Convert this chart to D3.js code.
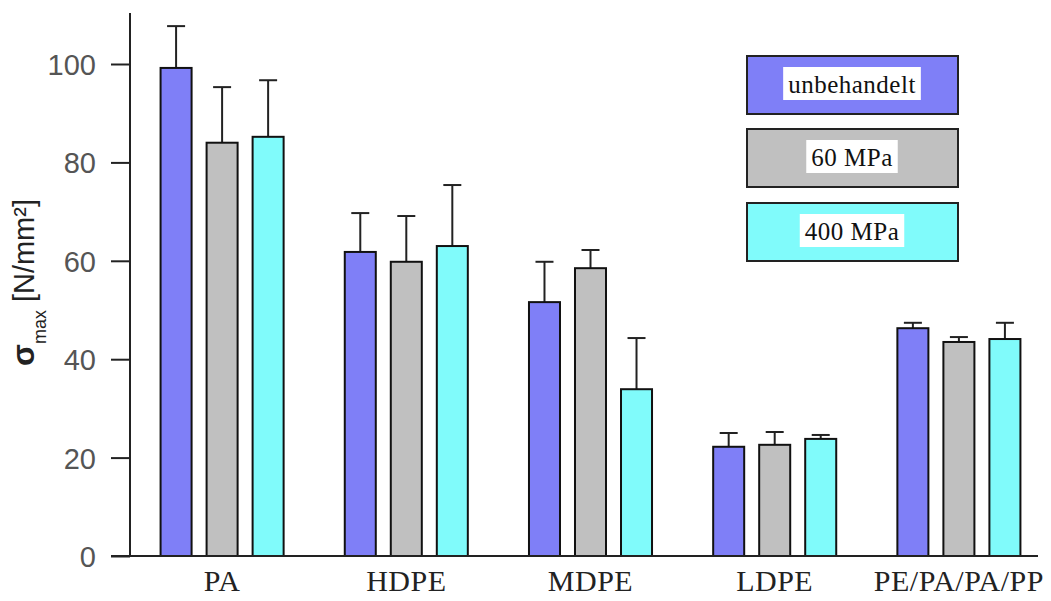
<!DOCTYPE html>
<html>
<head>
  <meta charset="utf-8">
  <script src="https://d3js.org/d3.v7.min.js"></script>
  <style>
    body { margin: 0; background: #fff; }
    .tickLabel { font-family: "Liberation Sans", Arial, sans-serif; font-size: 29px; fill: #555; }
    .catLabel { font-family: "Liberation Serif", "Times New Roman", serif; font-size: 30px; fill: #222; letter-spacing: 0.5px; }
    .legendLabel { font-family: "Liberation Serif", "Times New Roman", serif; font-size: 25px; fill: #111; letter-spacing: 0.5px; }
    .yTitle { font-family: "Liberation Sans", Arial, sans-serif; font-size: 29px; fill: #222; }
  </style>
</head>
<body>
  <script>
    // chart data
    var categories = ["PA", "HDPE", "MDPE", "LDPE", "PE/PA/PA/PP"];
    var seriesNames = ["unbehandelt", "60 MPa", "400 MPa"];
    var unbehandelt = [99.2, 61.8, 51.6, 22.2, 46.3];
    var mpa60 = [84.0, 59.8, 58.5, 22.6, 43.5];
    var mpa400 = [85.2, 63.0, 33.9, 23.8, 44.1];
    // top of each error bar
    var errUnbehandelt = [107.7, 69.7, 59.8, 25.0, 47.4];
    var errMpa60 = [95.3, 69.1, 62.2, 25.2, 44.5];
    var errMpa400 = [96.7, 75.4, 44.3, 24.6, 47.4];
    var yTicks = [0, 20, 40, 60, 80, 100];

    var seriesValues = [unbehandelt, mpa60, mpa400];
    var seriesErrors = [errUnbehandelt, errMpa60, errMpa400];
    var colors = ["#7f7ff7", "#c0c0c0", "#80fbfb"];

    var outerWidth = 1051,
      outerHeight = 601;

    var svg = d3.select("body")
      .append("svg")
      .attr("width", outerWidth)
      .attr("height", outerHeight);

    // scales
    var x0 = d3.scaleBand()
      .domain(categories)
      .range([130, 1051])
      .paddingInner(0.332)
      .paddingOuter(0.166);

    var x1 = d3.scaleBand()
      .domain(seriesNames)
      .range([0, x0.bandwidth()])
      .paddingInner(0.326);

    var yScale = d3.scaleLinear()
      .domain([0, 100])
      .range([556, 64]);

    var colorScale = d3.scaleOrdinal()
      .domain(seriesNames)
      .range(colors);

    // flatten to one row per bar
    var rows = [];
    categories.forEach(function(cat, i) {
      seriesNames.forEach(function(s, j) {
        rows.push({ cat: cat, series: s, value: seriesValues[j][i], err: seriesErrors[j][i] });
      });
    });

    // error bars first so the bars sit on top
    var errG = svg.append("g")
      .selectAll("g")
      .data(rows)
      .join("g")
      .attr("transform", function(d) {
        return "translate(" + (x0(d.cat) + x1(d.series) + x1.bandwidth() / 2) + ",0)";
      });

    errG.append("line")
      .attr("x1", 0).attr("x2", 0)
      .attr("y1", function(d) { return yScale(d.value); })
      .attr("y2", function(d) { return yScale(d.err); })
      .attr("stroke", "#222")
      .attr("stroke-width", 2);

    errG.append("line")
      .attr("x1", -9).attr("x2", 9)
      .attr("y1", function(d) { return yScale(d.err); })
      .attr("y2", function(d) { return yScale(d.err); })
      .attr("stroke", "#222")
      .attr("stroke-width", 2);

    // bars
    svg.append("g")
      .selectAll("rect")
      .data(rows)
      .join("rect")
      .attr("x", function(d) { return x0(d.cat) + x1(d.series); })
      .attr("y", function(d) { return yScale(d.value); })
      .attr("width", x1.bandwidth())
      .attr("height", function(d) { return yScale(0) - yScale(d.value); })
      .attr("fill", function(d) { return colorScale(d.series); })
      .attr("stroke", "#111")
      .attr("stroke-width", 2);

    // y axis
    var yAxis = svg.append("g")
      .attr("transform", "translate(130,0)")
      .call(d3.axisLeft(yScale).tickValues(yTicks).tickSize(19).tickPadding(15));

    yAxis.select(".domain").remove();
    yAxis.selectAll(".tick line").attr("stroke", "#222").attr("stroke-width", 2);
    yAxis.selectAll(".tick text").attr("class", "tickLabel").attr("dy", "0.36em");

    svg.append("line")
      .attr("x1", 130).attr("x2", 130)
      .attr("y1", 13).attr("y2", 556)
      .attr("stroke", "#222")
      .attr("stroke-width", 2);

    // x axis line and category labels
    svg.append("line")
      .attr("x1", 111).attr("x2", 1038)
      .attr("y1", 556).attr("y2", 556)
      .attr("stroke", "#222")
      .attr("stroke-width", 2);

    svg.append("g")
      .selectAll("text")
      .data(categories)
      .join("text")
      .attr("class", "catLabel")
      .attr("x", function(d) { return x0(d) + x0.bandwidth() / 2; })
      .attr("y", 591)
      .attr("text-anchor", "middle")
      .text(function(d) { return d; });

    // y title
    var yTitle = svg.append("text")
      .attr("class", "yTitle")
      .attr("transform", "translate(34,366) rotate(-90)");
    yTitle.append("tspan").attr("font-weight", "bold").attr("font-size", "32px").text("σ");
    yTitle.append("tspan").attr("font-size", "18px").attr("dy", 12).text("max");
    yTitle.append("tspan").attr("dy", -12).attr("dx", 8).text("[N/mm²]");

    // legend
    var legendTops = [56, 129, 203];
    var legend = svg.append("g")
      .selectAll("g")
      .data(seriesNames)
      .join("g")
      .attr("transform", function(d, i) { return "translate(747," + legendTops[i] + ")"; });

    legend.append("rect")
      .attr("width", 211)
      .attr("height", 58)
      .attr("fill", function(d) { return colorScale(d); })
      .attr("stroke", "#222")
      .attr("stroke-width", 2);

    legend.append("text")
      .attr("class", "legendLabel")
      .attr("x", 105)
      .attr("y", 37)
      .attr("text-anchor", "middle")
      .text(function(d) { return d; })
      .each(function() {
        var bb = this.getBBox();
        d3.select(this.parentNode).insert("rect", "text")
          .attr("x", bb.x - 5)
          .attr("y", 11)
          .attr("width", bb.width + 10)
          .attr("height", 33)
          .attr("fill", "#fff");
      });
  </script>
</body>
</html>
